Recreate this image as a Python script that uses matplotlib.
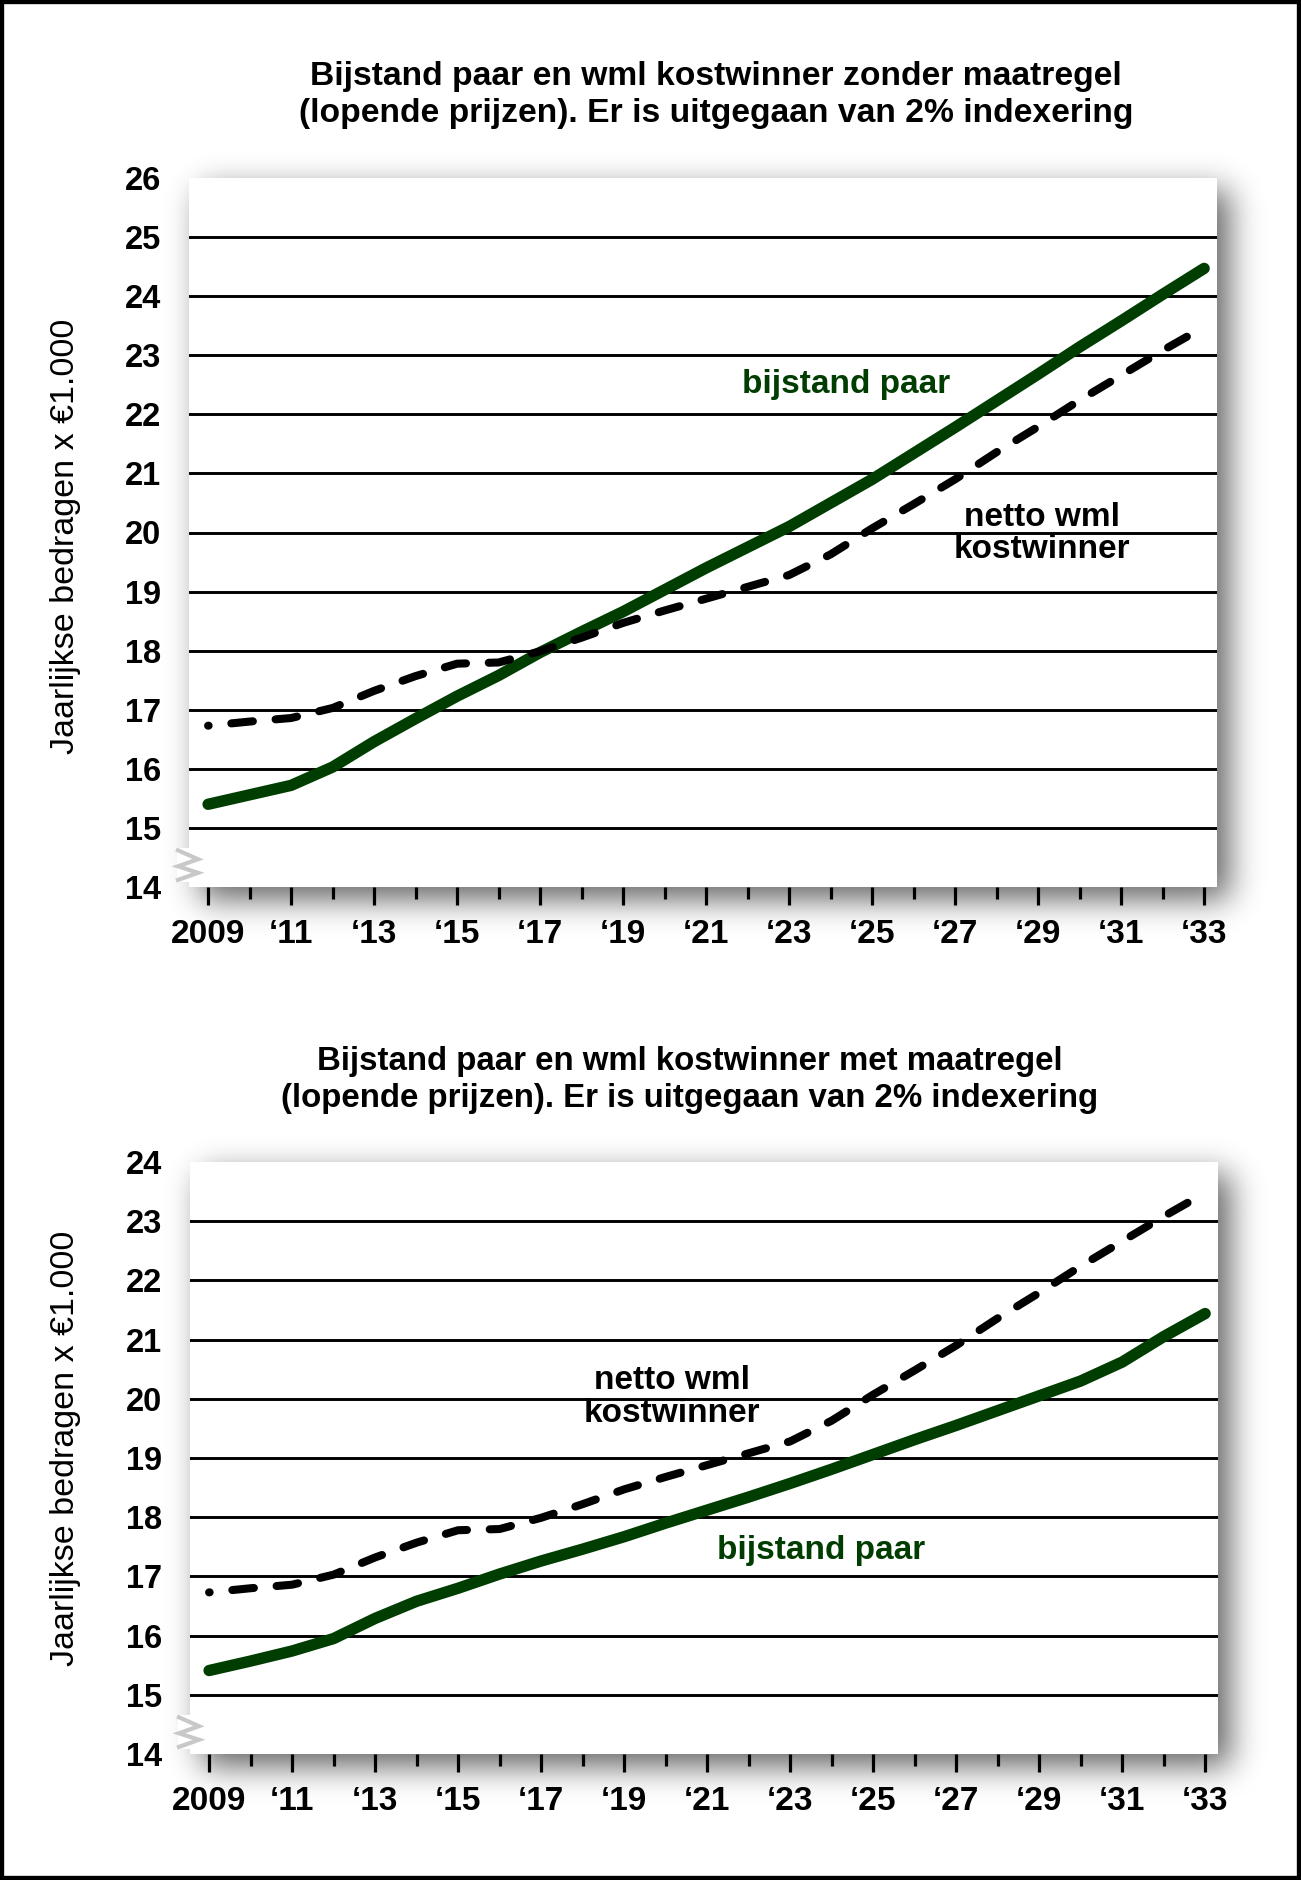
import numpy as np
import matplotlib
matplotlib.use('Agg')
import matplotlib.pyplot as plt
from matplotlib.patches import Rectangle
import matplotlib.transforms as mtransforms
from math import erf, sqrt

# ---------------- data ----------------
years = list(range(2009, 2034))

bijstand_zonder = [15.40, 15.56, 15.72, 16.03, 16.46, 16.85, 17.23, 17.58, 17.97,
                   18.32, 18.66, 19.03, 19.40, 19.75, 20.10, 20.50, 20.90, 21.34,
                   21.78, 22.23, 22.68, 23.14, 23.58, 24.03, 24.47]

wml_netto = [16.73, 16.80, 16.86, 17.03, 17.32, 17.57, 17.78, 17.80, 17.99,
             18.22, 18.47, 18.68, 18.88, 19.08, 19.28, 19.63, 20.07, 20.48,
             20.90, 21.36, 21.79, 22.24, 22.66, 23.08, 23.48]

bijstand_met = [15.41, 15.57, 15.74, 15.95, 16.29, 16.58, 16.80, 17.04, 17.26,
                17.46, 17.67, 17.90, 18.12, 18.34, 18.57, 18.81, 19.06, 19.31,
                19.55, 19.80, 20.05, 20.30, 20.62, 21.05, 21.44]

major_years = list(range(2009, 2034, 2))
minor_years = list(range(2010, 2034, 2))
major_labels = ["2009"] + ["\u2018%02d" % (y % 100) for y in major_years[1:]]

title_top = ("Bijstand paar en wml kostwinner zonder maatregel\n"
             "(lopende prijzen). Er is uitgegaan van 2% indexering")
title_bottom = ("Bijstand paar en wml kostwinner met maatregel\n"
                "(lopende prijzen). Er is uitgegaan van 2% indexering")
ylabel_text = "Jaarlijkse bedragen x \u20ac1.000"
label_bijstand = "bijstand paar"
label_wml = "netto wml\nkostwinner"

# ---------------- style ----------------
W, H, DPI = 1301, 1880, 100
GREEN = '#003d00'
plt.rcParams['font.family'] = ['Liberation Sans', 'DejaVu Sans']
plt.rcParams['lines.scale_dashes'] = False

fig = plt.figure(figsize=(W / DPI, H / DPI), dpi=DPI)
fig.patch.set_facecolor('white')

# plot rectangles in pixels: left, top, right, bottom
rect_top = (189, 178, 1217, 887)
rect_bot = (190, 1162, 1218, 1754)

# ---------------- drop shadow ----------------
verf = np.vectorize(erf)
xs = np.arange(W) + 0.5
ys = np.arange(H) + 0.5
dark = np.zeros((H, W))
sig, dx, dy, amax = 16.0, 12.0, 12.0, 0.62
for (l, t, r, b) in (rect_top, rect_bot):
    fx = 0.5 * (verf((xs - (l + dx)) / (sig * sqrt(2))) - verf((xs - (r + dx)) / (sig * sqrt(2))))
    fy = 0.5 * (verf((ys - (t + dy)) / (sig * sqrt(2))) - verf((ys - (b + dy)) / (sig * sqrt(2))))
    dark = np.maximum(dark, np.outer(fy, fx) * amax)
rgba = np.zeros((H, W, 4))
rgba[..., 3] = dark
bg = fig.add_axes([0, 0, 1, 1], zorder=0)
bg.imshow(rgba, extent=(0, W, H, 0), interpolation='bilinear', aspect='auto')
bg.set_xlim(0, W)
bg.set_ylim(H, 0)
bg.axis('off')


def make_panel(rect, ymax, bijstand, title, title_xy, title_size, ylab_y, lab_b, lab_w):
    l, t, r, b = rect
    ax = fig.add_axes([l / W, 1 - b / H, (r - l) / W, (b - t) / H], zorder=2)
    ax.set_facecolor('white')
    for s in ax.spines.values():
        s.set_visible(False)
    ax.set_xlim(2008.54, 2033.31)
    ax.set_ylim(14, ymax)

    for v in range(15, ymax):
        ax.axhline(v, color='black', lw=2.1, zorder=1)

    ax.plot(years, bijstand, color=GREEN, lw=8.2, solid_capstyle='round',
            solid_joinstyle='round', zorder=3)
    ax.plot(years, wml_netto, color='black', lw=5.8,
            linestyle=(15.2, (15.6, 16.4)), dash_capstyle='round',
            dash_joinstyle='round', zorder=4)

    ax.set_yticks(list(range(14, ymax + 1)))
    ax.set_yticklabels([str(v) for v in range(14, ymax + 1)], fontsize=23.5, fontweight='bold')
    ax.tick_params(axis='y', length=0, pad=20)

    ax.set_xticks(major_years)
    ax.set_xticklabels(major_labels, fontsize=24, fontweight='bold')
    ax.set_xticks(minor_years, minor=True)
    ax.tick_params(axis='x', which='major', length=13, width=2.3, pad=10, color='black')
    ax.tick_params(axis='x', which='minor', length=8.6, width=2.3, color='black')

    ax.text(lab_b[0], lab_b[1], label_bijstand, color=GREEN, fontsize=24,
            fontweight='bold', ha='center', va='center', zorder=5)
    ax.text(lab_w[0], lab_w[1], label_wml, color='black', fontsize=24,
            fontweight='bold', ha='center', va='center', linespacing=1.05, zorder=5)

    # axis break marker on the left edge
    axw = float(r - l)
    tr = mtransforms.blended_transform_factory(ax.transAxes, ax.transData)
    ax.add_patch(Rectangle((-12 / axw, 14.08), 12 / axw, 0.58, transform=tr,
                           facecolor='white', edgecolor='none', clip_on=False, zorder=6))
    zx = [-11 / axw, 9 / axw, -11 / axw, 9 / axw, -11 / axw]
    zy = [14.62, 14.47, 14.35, 14.24, 14.12]
    ax.plot(zx, zy, transform=tr, color='#c8c8c8', lw=3, clip_on=False, zorder=7,
            solid_joinstyle='miter')

    fig.text(title_xy[0] / W, 1 - title_xy[1] / H, title, ha='center', va='center',
             fontsize=title_size, fontweight='bold', linespacing=1.22)
    fig.text(66 / W, 1 - ylab_y / H, ylabel_text, rotation=90, ha='center',
             va='center', fontsize=24.5)
    return ax


make_panel(rect_top, 26, bijstand_zonder, title_top, (716, 95), 24.2, 536,
           (2024.37, 22.5), (2029.1, 19.98))
make_panel(rect_bot, 24, bijstand_met, title_bottom, (690, 1080), 23.8, 1448,
           (2023.75, 17.44), (2020.16, 20.03))

fig.patches.append(Rectangle((0, 0), 1, 1, transform=fig.transFigure, fill=False,
                             edgecolor='black', lw=6, zorder=10))

fig.savefig('out.png', dpi=DPI, facecolor='white')
